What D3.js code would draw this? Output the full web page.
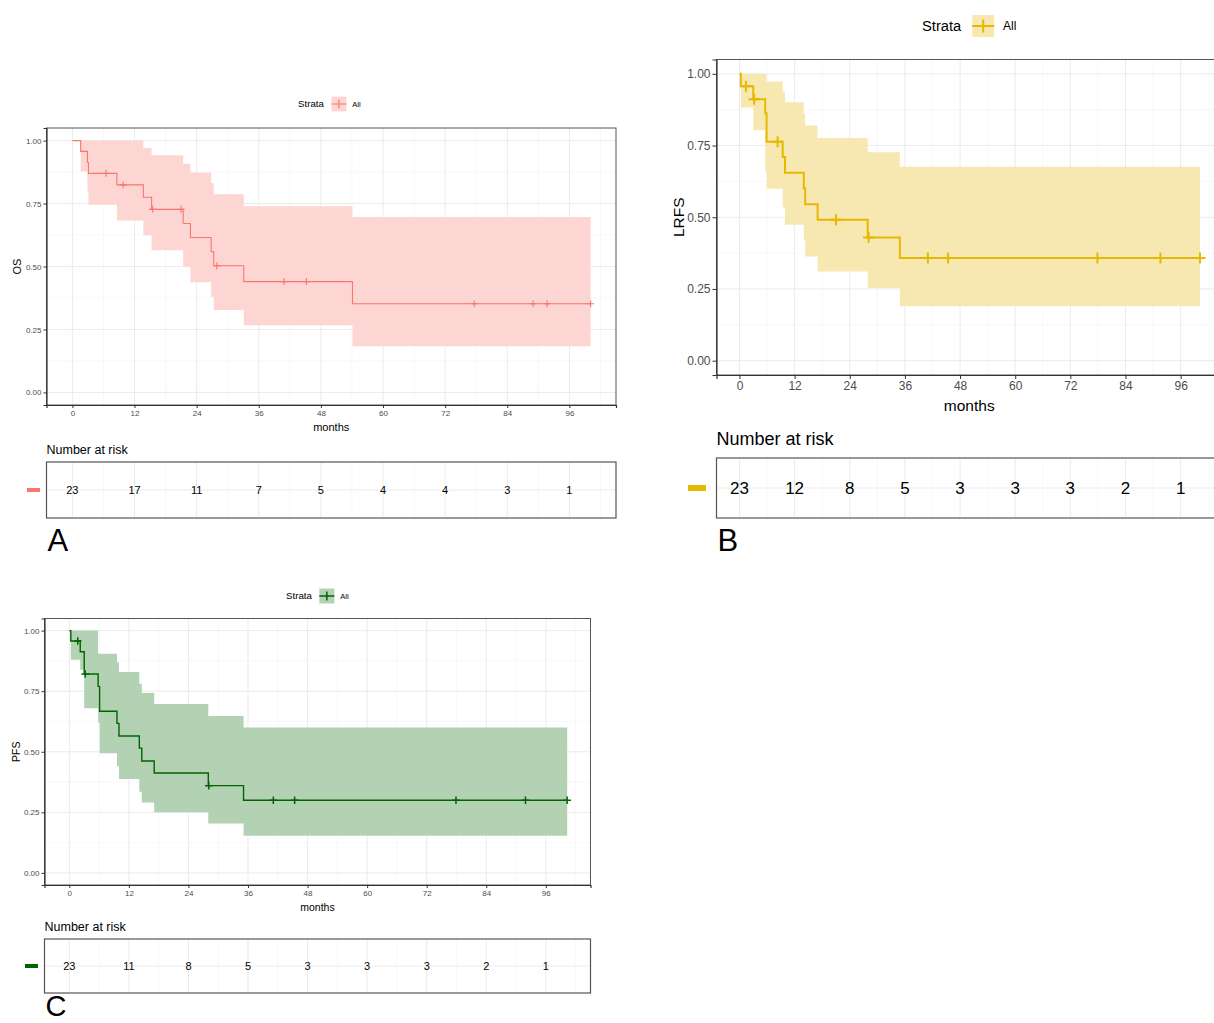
<!DOCTYPE html>
<html>
<head>
<meta charset="utf-8">
<script src="https://cdnjs.cloudflare.com/ajax/libs/d3/7.8.5/d3.min.js"></script>
<style>
  body { margin: 0; background: #fff; }
  svg { font-family: "Liberation Sans", Arial, sans-serif; }
</style>
</head>
<body>
<div id="chart"></div>
<script>
///////////////////////////////////////////////////////////////////
//DATA//////////////////////////////////////
var monthTicks = [0, 12, 24, 36, 48, 60, 72, 84, 96];
var survTicks = [0, 0.25, 0.5, 0.75, 1];

// OS
var osTime  = [0, 1.6, 2.9, 3.1, 8.6, 13.7, 15.3, 21.4, 22.8, 26.8, 27.3, 33.1, 54.1, 100.1];
var osSurv  = [1, 0.957, 0.913, 0.870, 0.824, 0.775, 0.727, 0.671, 0.615, 0.559, 0.503, 0.440, 0.352, 0.352];
var osUpper = [1, 1, 1, 1, 1, 0.971, 0.942, 0.908, 0.873, 0.832, 0.787, 0.739, 0.697, 0.697];
var osLower = [1, 0.877, 0.80, 0.745, 0.683, 0.624, 0.565, 0.500, 0.437, 0.379, 0.327, 0.267, 0.183, 0.183];
var osCensor = [6.5, 9.8, 15.5, 21.0, 27.9, 40.9, 45.2, 77.6, 89.0, 91.7, 100.1];
var osRisk = [23, 17, 11, 7, 5, 4, 4, 3, 1];

// LRFS
var lrTime  = [0, 0.3, 3.0, 5.6, 5.9, 9.4, 9.9, 14.0, 14.3, 17.0, 27.9, 34.9, 100.2];
var lrSurv  = [1, 0.957, 0.911, 0.863, 0.763, 0.710, 0.655, 0.600, 0.545, 0.491, 0.429, 0.358, 0.358];
var lrUpper = [1, 1, 1, 1, 0.973, 0.938, 0.901, 0.86, 0.820, 0.776, 0.727, 0.676, 0.676];
var lrLower = [1, 0.883, 0.803, 0.66, 0.599, 0.535, 0.474, 0.42, 0.363, 0.311, 0.253, 0.190, 0.190];
var lrCensor = [1.4, 3.2, 8.3, 21.0, 28.1, 41.0, 45.4, 77.9, 91.6, 100.2];
var lrRisk = [23, 12, 8, 5, 3, 3, 3, 2, 1];

// PFS
var pfTime  = [0, 0.3, 2.2, 3.0, 5.8, 6.1, 9.6, 10.0, 14.1, 14.6, 17.1, 28.0, 35.1, 100.3];
var pfSurv  = [1, 0.957, 0.913, 0.821, 0.770, 0.667, 0.617, 0.565, 0.515, 0.462, 0.412, 0.360, 0.300, 0.300];
var pfUpper = [1, 1, 1, 1, 0.904, 0.904, 0.869, 0.829, 0.781, 0.742, 0.697, 0.648, 0.600, 0.600];
var pfLower = [1, 0.88, 0.838, 0.68, 0.62, 0.494, 0.44, 0.388, 0.335, 0.291, 0.250, 0.204, 0.153, 0.153];
var pfCensor = [1.7, 3.2, 28.1, 41.1, 45.4, 77.9, 91.9, 100.3];
var pfRisk = [23, 11, 8, 5, 3, 3, 3, 2, 1];

///////////////////////////////////////////////////////////////////
//PANEL LAYOUTS////////////////////////////////////////////////////
var panels = [
  { letter: "A", yTitle: "OS", color: "#F8766D", fill: "#FDD6D3",
    time: osTime, surv: osSurv, upper: osUpper, lower: osLower, censor: osCensor, risk: osRisk,
    left: 46.5, right: 616, top: 128, bottom: 405,
    tickFont: 8, titleFont: 11, lineW: 1.1, mark: 3.5, markW: 1.1, tickLen: 3,
    legY: 104, legFont: 9.7, legSmall: 7.5, legX: 298, legBox: 15,
    yTitleX: 17,
    riskTop: 462, riskBottom: 518, riskTitleY: 454, riskTitleFont: 12.5, riskFont: 11,
    dashX: 27, dashW: 13, dashH: 4,
    letterY: 551, letterFont: 31 },
  { letter: "B", yTitle: "LRFS", color: "#E7B800", fill: "#F7E8B2",
    time: lrTime, surv: lrSurv, upper: lrUpper, lower: lrLower, censor: lrCensor, risk: lrRisk,
    left: 716.5, right: 1222, top: 59.5, bottom: 375,
    tickFont: 12, titleFont: 15.5, lineW: 2, mark: 5.5, markW: 2, tickLen: 4,
    legY: 26, legFont: 14.7, legSmall: 12, legX: 922, legBox: 22,
    yTitleX: 679,
    riskTop: 458, riskBottom: 518, riskTitleY: 445, riskTitleFont: 18, riskFont: 17,
    dashX: 688, dashW: 18, dashH: 6,
    letterY: 551, letterFont: 31 },
  { letter: "C", yTitle: "PFS", color: "#006400", fill: "#B3D1B3",
    time: pfTime, surv: pfSurv, upper: pfUpper, lower: pfLower, censor: pfCensor, risk: pfRisk,
    left: 44.5, right: 590.5, top: 618.5, bottom: 885,
    tickFont: 8, titleFont: 10.5, lineW: 1.4, mark: 3.8, markW: 1.5, tickLen: 3,
    legY: 596, legFont: 9.7, legSmall: 7.5, legX: 286, legBox: 15,
    yTitleX: 16,
    riskTop: 939, riskBottom: 993, riskTitleY: 931, riskTitleFont: 12.5, riskFont: 11,
    dashX: 25, dashW: 13, dashH: 4,
    letterY: 1016, letterFont: 29 }
];

//CREATE CANVAS//////////////////////////////////////////////////
var svg = d3.select("#chart").append("svg")
  .attr("width", 1214).attr("height", 1023);

panels.forEach(drawPanel);

///////////////////////////////////////////////////////////////////
//HELPER FUNCTIONS/////////////////////////////////////////////////
function stepValue(times, vals, t){
  var i = d3.bisectRight(times, t) - 1;
  return vals[Math.max(0, i)];
}

function drawPanel(p){
  var g = svg.append("g").attr("class", "panel-" + p.letter);
  var x = d3.scaleLinear().domain([-5, 105]).range([p.left, p.right]);
  var y = d3.scaleLinear().domain([-0.05, 1.05]).range([p.bottom, p.top]);
  var minorX = d3.range(6, 105, 12);
  var minorY = [0.125, 0.375, 0.625, 0.875];

  // GRID
  var grid = g.append("g");
  grid.selectAll(".mx").data(minorX).enter().append("line")
    .attr("x1", x).attr("x2", x).attr("y1", p.top).attr("y2", p.bottom)
    .attr("stroke", "#F3F3F3").attr("stroke-width", 0.6);
  grid.selectAll(".my").data(minorY).enter().append("line")
    .attr("x1", p.left).attr("x2", p.right).attr("y1", y).attr("y2", y)
    .attr("stroke", "#F3F3F3").attr("stroke-width", 0.6);
  grid.selectAll(".Mx").data(monthTicks).enter().append("line")
    .attr("x1", x).attr("x2", x).attr("y1", p.top).attr("y2", p.bottom)
    .attr("stroke", "#EBEBEB").attr("stroke-width", 1);
  grid.selectAll(".My").data(survTicks).enter().append("line")
    .attr("x1", p.left).attr("x2", p.right).attr("y1", y).attr("y2", y)
    .attr("stroke", "#EBEBEB").attr("stroke-width", 1);

  // CONFIDENCE BAND
  var pts = p.time.map(function(t, i){ return { t: t, s: p.surv[i], u: p.upper[i], l: p.lower[i] }; });
  g.append("path").datum(pts)
    .attr("d", d3.area().curve(d3.curveStepAfter)
      .x(function(d){ return x(d.t); })
      .y0(function(d){ return y(d.l); })
      .y1(function(d){ return y(d.u); }))
    .attr("fill", p.fill).attr("stroke", "none");

  // KM CURVE
  g.append("path").datum(pts)
    .attr("d", d3.line().curve(d3.curveStepAfter)
      .x(function(d){ return x(d.t); })
      .y(function(d){ return y(d.s); }))
    .attr("fill", "none").attr("stroke", p.color).attr("stroke-width", p.lineW);

  // CENSOR MARKS
  g.selectAll(".censor").data(p.censor).enter().append("path")
    .attr("d", function(t){
      var cx = x(t), cy = y(stepValue(p.time, p.surv, t)), m = p.mark;
      return "M" + (cx - m) + "," + cy + "H" + (cx + m) + "M" + cx + "," + (cy - m) + "V" + (cy + m);
    })
    .attr("stroke", p.color).attr("stroke-width", p.markW).attr("fill", "none");

  // BORDER + AXES
  g.append("rect").attr("x", p.left).attr("y", p.top)
    .attr("width", p.right - p.left).attr("height", p.bottom - p.top)
    .attr("fill", "none").attr("stroke", "#555").attr("stroke-width", 1);

  var xAxis = g.append("g").attr("transform", "translate(0," + p.bottom + ")")
    .call(d3.axisBottom(x).tickValues(monthTicks).tickSize(p.tickLen).tickPadding(2));
  var yAxis = g.append("g").attr("transform", "translate(" + p.left + ",0)")
    .call(d3.axisLeft(y).tickValues(survTicks).tickFormat(d3.format(".2f")).tickSize(p.tickLen).tickPadding(2));
  [xAxis, yAxis].forEach(function(ax){
    ax.select(".domain").attr("stroke", "#333").attr("stroke-width", 1.2);
    ax.selectAll(".tick line").attr("stroke", "#333");
    ax.selectAll(".tick text").attr("fill", "#4D4D4D").style("font-size", p.tickFont + "px")
      .style("font-family", "'Liberation Sans', Arial, sans-serif");
  });

  // AXIS TITLES
  g.append("text").attr("x", (p.left + p.right) / 2)
    .attr("y", p.bottom + p.tickLen + p.tickFont + 4 + p.titleFont)
    .attr("text-anchor", "middle").style("font-size", p.titleFont + "px").text("months");
  g.append("text")
    .attr("transform", "translate(" + p.yTitleX + "," + ((p.top + p.bottom) / 2) + ") rotate(-90)")
    .attr("text-anchor", "middle").attr("dy", "0.35em")
    .style("font-size", p.titleFont + "px").text(p.yTitle);

  // LEGEND
  var leg = g.append("g").attr("transform", "translate(" + p.legX + "," + p.legY + ")");
  var strata = leg.append("text").attr("dy", "0.35em").style("font-size", p.legFont + "px").text("Strata");
  var sw = strata.node().getComputedTextLength();
  var bx = sw + p.legBox * 0.5, b = p.legBox;
  leg.append("rect").attr("x", bx).attr("y", -b / 2).attr("width", b).attr("height", b).attr("fill", p.fill);
  leg.append("path")
    .attr("d", "M" + bx + ",0H" + (bx + b) + "M" + (bx + b / 2) + "," + (-b * 0.3) + "V" + (b * 0.3))
    .attr("stroke", p.color).attr("stroke-width", p.markW);
  leg.append("text").attr("x", bx + b + b * 0.4).attr("dy", "0.35em")
    .style("font-size", p.legSmall + "px").text("All");

  // RISK TABLE
  var rt = g.append("g");
  rt.append("text").attr("x", p.left).attr("y", p.riskTitleY)
    .style("font-size", p.riskTitleFont + "px").text("Number at risk");
  var rMid = (p.riskTop + p.riskBottom) / 2;
  rt.selectAll(".rmx").data(minorX).enter().append("line")
    .attr("x1", x).attr("x2", x).attr("y1", p.riskTop).attr("y2", p.riskBottom)
    .attr("stroke", "#F3F3F3").attr("stroke-width", 0.6);
  rt.selectAll(".rMx").data(monthTicks).enter().append("line")
    .attr("x1", x).attr("x2", x).attr("y1", p.riskTop).attr("y2", p.riskBottom)
    .attr("stroke", "#EBEBEB").attr("stroke-width", 1);
  rt.append("line").attr("x1", p.left).attr("x2", p.right).attr("y1", rMid).attr("y2", rMid)
    .attr("stroke", "#EBEBEB").attr("stroke-width", 1);
  rt.append("rect").attr("x", p.left).attr("y", p.riskTop)
    .attr("width", p.right - p.left).attr("height", p.riskBottom - p.riskTop)
    .attr("fill", "none").attr("stroke", "#555").attr("stroke-width", 1.2);
  rt.selectAll(".risk").data(p.risk).enter().append("text")
    .attr("x", function(d, i){ return x(monthTicks[i]); })
    .attr("y", rMid).attr("dy", "0.36em").attr("text-anchor", "middle")
    .style("font-size", p.riskFont + "px").text(function(d){ return d; });
  rt.append("rect").attr("x", p.dashX).attr("y", rMid - p.dashH / 2)
    .attr("width", p.dashW).attr("height", p.dashH).attr("fill", p.color);

  // PANEL LETTER
  g.append("text").attr("x", p.left + 1).attr("y", p.letterY)
    .style("font-size", p.letterFont + "px").text(p.letter);
}
</script>
</body>
</html>
